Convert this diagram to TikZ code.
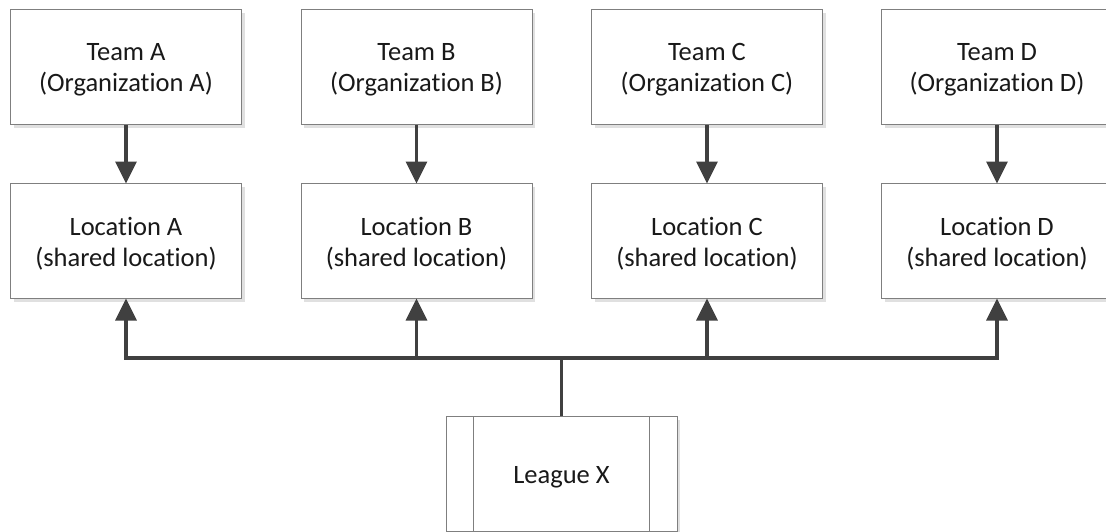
\documentclass[tikz,border=0pt]{standalone}
\usepackage{fontspec}
\setmainfont{Carlito}[Ligatures={NoCommon}]
\usetikzlibrary{arrows.meta,shadows}
\definecolor{conncol}{HTML}{404040}
\definecolor{boxline}{HTML}{7F7F7F}
\tikzset{
  box/.style={draw=boxline, line width=1pt, fill=white, minimum width=231pt, minimum height=115pt,
    inner sep=0pt,
    drop shadow={shadow xshift=3pt, shadow yshift=-3pt, fill=black!12, opacity=1}},
  lbl/.style={align=center, inner sep=0pt, yshift=-3pt, font=\fontsize{26.5}{31}\selectfont, text=black!90},
  conn/.style={draw=conncol, line width=3.3pt},
  arr/.style={conn, -{Triangle[width=21pt,length=22pt]}, shorten >=-0.5pt},
}
\begin{document}
\begin{tikzpicture}[x=1pt,y=-1pt]
\useasboundingbox (0,0) rectangle (1106,531);
\clip (0,0) rectangle (1106,531);
\fill[white] (0,0) rectangle (1106,531);
% teams
\node[box, label={[lbl]center:{Team A\\(Organization A)}}] (ta) at (126,67) {};
\node[box, label={[lbl]center:{Team B\\(Organization B)}}] (tb) at (416.5,67) {};
\node[box, label={[lbl]center:{Team C\\(Organization C)}}] (tc) at (707,67) {};
\node[box, label={[lbl]center:{Team D\\(Organization D)}}] (td) at (997,67) {};
% locations
\node[box, label={[lbl]center:{Location A\\(shared location)}}] (la) at (126,241) {};
\node[box, label={[lbl]center:{Location B\\(shared location)}}] (lb) at (416.5,241) {};
\node[box, label={[lbl]center:{Location C\\(shared location)}}] (lc) at (707,241) {};
\node[box, label={[lbl]center:{Location D\\(shared location)}}] (ld) at (997,241) {};
% league
\node[box, label={[lbl]center:{League X}}] (lx) at (561.5,474) {};
\draw[boxline, line width=1pt] ([xshift=28pt]lx.north west) -- ([xshift=28pt]lx.south west);
\draw[boxline, line width=1pt] ([xshift=-28pt]lx.north east) -- ([xshift=-28pt]lx.south east);
% connectors
\draw[arr] (ta) -- (la);
\draw[arr] (tb) -- (lb);
\draw[arr] (tc) -- (lc);
\draw[arr] (td) -- (ld);
\coordinate (bus) at (561.5,358);
\draw[conn] (lx.north) -- (bus);
\draw[arr] (bus) -| (la.south);
\draw[arr] (bus) -| (lb.south);
\draw[arr] (bus) -| (lc.south);
\draw[arr] (bus) -| (ld.south);
\end{tikzpicture}
\end{document}
